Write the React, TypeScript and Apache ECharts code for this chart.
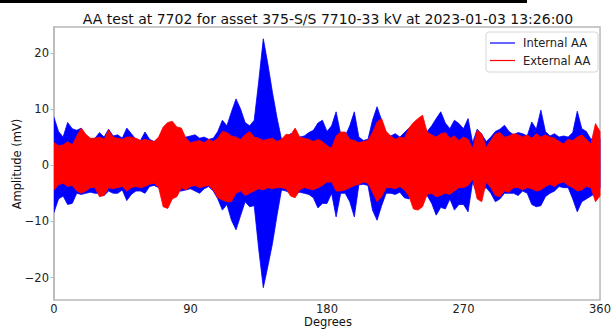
import React, { useEffect, useRef } from "react";
import * as echarts from "echarts";

// Sample spacing (degrees) of the envelope readings below; readings start at 0°.
const STEP_DEG = 3;

// Internal AA (blue) — upper and lower envelope read every 3° from 0° to 360° (mV)
const internalMax = [
  8.5, 6.0, 5.0, 7.6, 6.5, 6.2, 6.6, 5.0, 4.6, 4.8, 5.8, 5.0, 6.4, 5.2, 5.4, 4.8,
  6.6, 5.6, 4.6, 4.4, 5.9, 4.6, 4.2, 4.8, 6.4, 6.0, 5.5, 5.5, 4.6, 5.0, 5.2, 5.4,
  4.8, 5.0, 4.6, 4.8, 6.0, 8.0, 7.0, 9.5, 11.8, 10.0, 7.6, 7.0, 8.0, 15.0, 22.5, 18.0,
  13.0, 8.5, 4.6, 5.0, 5.6, 5.2, 5.0, 5.2, 5.8, 6.2, 7.5, 8.0, 6.0, 7.0, 9.5, 5.5,
  5.2, 7.0, 9.5, 5.0, 4.4, 4.6, 8.0, 10.4, 8.0, 5.4, 5.2, 5.6, 5.0, 5.8, 6.6, 6.0,
  6.5, 6.2, 6.0, 7.0, 8.3, 9.5, 7.5, 6.5, 8.0, 7.4, 6.5, 8.3, 4.0, 6.4, 5.5, 4.2,
  5.0, 6.0, 6.4, 7.1, 6.0, 5.4, 5.8, 5.6, 5.2, 7.7, 6.4, 9.8, 6.0, 5.2, 5.6, 5.0,
  5.2, 5.0, 5.8, 9.6, 6.5, 6.0, 4.6, 5.0, 4.8,
];
const internalMin = [
  -8.4, -6.0, -5.5, -7.0, -6.8, -5.0, -5.2, -5.0, -4.8, -5.0, -5.0, -5.4, -4.6, -5.0, -5.0, -4.4,
  -6.3, -5.2, -4.6, -4.6, -5.0, -3.8, -3.6, -4.0, -5.0, -5.0, -5.0, -4.6, -4.6, -4.4, -4.2, -4.6,
  -5.0, -4.2, -3.8, -4.6, -6.0, -8.0, -7.0, -9.8, -11.5, -9.0, -6.5, -7.4, -7.2, -15.0, -21.8, -18.0,
  -14.0, -9.0, -4.4, -4.6, -5.0, -5.2, -4.8, -5.0, -5.2, -5.8, -7.6, -6.8, -6.8, -5.0, -9.2, -5.0,
  -5.0, -6.5, -9.2, -3.5, -3.4, -3.6, -8.0, -9.8, -7.2, -5.0, -5.0, -5.2, -4.8, -5.8, -6.0, -5.5,
  -5.6, -5.4, -5.4, -6.8, -8.9, -7.5, -7.8, -6.0, -8.0, -7.0, -7.0, -8.3, -3.0, -5.0, -4.5, -4.0,
  -5.0, -6.5, -6.0, -5.0, -5.0, -5.0, -5.4, -4.6, -5.0, -7.0, -7.4, -7.2, -5.6, -5.0, -4.6, -3.8,
  -4.0, -4.0, -6.0, -8.3, -6.5, -6.0, -5.5, -5.0, -4.0,
];

// External AA (red) — upper and lower envelope read every 3° (mV)
const externalMax = [
  4.0, 3.5, 3.6, 4.2, 3.6, 5.2, 6.6, 5.5, 4.8, 4.8, 5.0, 4.6, 6.2, 5.0, 4.8, 4.6,
  5.0, 5.0, 4.8, 4.4, 4.6, 4.4, 4.2, 5.0, 6.8, 7.6, 7.8, 6.8, 6.6, 4.8, 4.0, 4.2,
  4.4, 4.0, 4.6, 4.2, 4.8, 6.0, 5.8, 5.2, 5.0, 4.6, 5.4, 6.0, 5.0, 4.8, 4.4, 4.6,
  4.8, 4.2, 4.6, 5.5, 5.4, 6.6, 5.0, 4.8, 4.6, 4.2, 4.6, 4.2, 3.5, 3.0, 5.2, 5.9,
  5.9, 4.6, 4.4, 4.0, 4.2, 4.4, 5.8, 7.7, 8.3, 6.0, 5.2, 4.6, 5.0, 4.8, 6.6, 7.6,
  8.3, 8.9, 5.9, 5.4, 5.0, 5.6, 5.8, 4.8, 5.2, 4.4, 5.0, 4.6, 3.0, 6.2, 5.6, 3.2,
  4.4, 5.6, 5.8, 5.0, 5.2, 5.6, 5.4, 5.0, 5.4, 4.8, 5.6, 5.0, 5.4, 5.0, 4.8, 4.2,
  3.8, 4.6, 4.4, 5.0, 5.4, 4.6, 3.8, 7.4, 6.0,
];
const externalMin = [
  -4.4, -3.5, -3.2, -3.8, -3.6, -4.6, -5.0, -4.6, -4.0, -4.0, -5.6, -5.4, -4.0, -4.2, -4.0, -3.8,
  -4.6, -4.0, -3.8, -4.0, -3.8, -3.4, -3.2, -4.0, -7.4, -7.7, -6.0, -5.6, -4.0, -4.4, -3.8, -3.6,
  -4.0, -3.8, -3.6, -4.4, -5.8, -6.2, -6.5, -6.5, -5.0, -4.6, -5.4, -5.0, -4.6, -4.2, -4.4, -4.0,
  -4.2, -4.0, -4.0, -4.2, -5.5, -5.8, -4.4, -4.0, -4.2, -4.4, -4.0, -3.6, -3.0, -3.0, -4.6, -4.6,
  -4.4, -4.0, -3.6, -3.4, -3.0, -3.2, -4.8, -6.5, -5.6, -4.0, -4.0, -4.2, -3.8, -4.4, -5.5, -7.8,
  -8.0, -7.4, -5.2, -5.0, -5.6, -5.4, -5.0, -5.2, -4.6, -4.0, -4.0, -3.6, -2.5, -6.0, -6.5, -3.0,
  -4.0, -5.4, -5.6, -4.6, -4.8, -4.0, -4.0, -4.4, -4.0, -4.2, -4.6, -4.4, -3.8, -3.4, -3.8, -3.2,
  -3.0, -3.6, -4.0, -4.6, -4.4, -3.8, -4.0, -6.5, -5.5,
];

const seriesNames = ["Internal AA", "External AA"];
const seriesColors = ["#0000ff", "#ff0000"];
const xTicks = [0, 90, 180, 270, 360];
const yTicks = [-20, -10, 0, 10, 20];

const TITLE = "AA test at 7702 for asset 375-S/S 7710-33 kV at 2023-01-03 13:26:00";
const FONT = "DejaVu Sans";

export default function App() {
  const ref = useRef<HTMLDivElement>(null);

  useEffect(() => {
    if (!ref.current) return;
    const chart = echarts.init(ref.current, undefined, { renderer: "svg" });

    // One filled band (envelope of the dense signal) per trace, drawn via the axes' scales.
    const bandSeries = (name: string, maxs: number[], mins: number[], color: string) => ({
      name,
      type: "custom",
      coordinateSystem: "cartesian2d",
      silent: true,
      clip: true,
      itemStyle: { color, borderWidth: 0 },
      encode: { x: 0, y: [1, 2] },
      data: maxs.map((v, i) => [i * STEP_DEG, v, mins[i]]),
      renderItem: (params: any, api: any) => {
        if (params.dataIndex !== 0) return null;
        const pts: number[][] = [];
        for (let i = 0; i < maxs.length; i++) pts.push(api.coord([i * STEP_DEG, maxs[i]]));
        for (let i = mins.length - 1; i >= 0; i--) pts.push(api.coord([i * STEP_DEG, mins[i]]));
        return {
          type: "polygon",
          shape: { points: pts },
          style: { fill: color, stroke: color, lineWidth: 0.8 },
        };
      },
    });

    const grayAxis = "#b8b8b8";
    // Legend box (drawn as graphics so the line swatches are thin like the original)
    const LX = 486;
    const LY = 32;
    const LW = 112;
    const LH = 40;
    const rowY = [43, 60.5];

    const legendGraphics: any[] = [
      {
        type: "rect",
        z: 100,
        shape: { x: LX, y: LY, width: LW, height: LH, r: 3 },
        style: { fill: "#fff", stroke: "#d6d6d6", lineWidth: 1 },
      },
    ];
    seriesNames.forEach((n, k) => {
      legendGraphics.push({
        type: "rect",
        z: 101,
        shape: { x: LX + 4, y: rowY[k] - 0.6, width: 25, height: 1.2 },
        style: { fill: seriesColors[k], stroke: "none", lineWidth: 0 },
      });
      legendGraphics.push({
        type: "text",
        z: 101,
        x: LX + 37,
        y: rowY[k],
        style: { text: n, fill: "#222", font: `11.5px "${FONT}"`, textAlign: "left", textVerticalAlign: "middle" },
      });
    });

    chart.setOption({
      animation: false,
      textStyle: { fontFamily: FONT },
      grid: {
        left: 54,
        right: 11,
        top: 27,
        bottom: 29,
        show: true,
        borderColor: grayAxis,
        borderWidth: 1.5,
        backgroundColor: "transparent",
      },
      xAxis: {
        type: "value",
        min: 0,
        max: 360,
        interval: 90,
        axisLine: { show: true, lineStyle: { color: grayAxis, width: 1.5 } },
        axisTick: { show: true, length: 3.5, lineStyle: { color: grayAxis, width: 1 } },
        axisLabel: {
          color: "#222",
          fontSize: 11.5,
          fontFamily: FONT,
          margin: 3,
          customValues: xTicks,
        },
        splitLine: { show: false },
      },
      yAxis: {
        type: "value",
        min: -24.0,
        max: 24.6,
        axisLine: { show: true, onZero: false, lineStyle: { color: grayAxis, width: 1.5 } },
        axisTick: { show: true, length: 3.5, lineStyle: { color: grayAxis, width: 1 }, customValues: yTicks },
        axisLabel: {
          color: "#222",
          fontSize: 11.5,
          fontFamily: FONT,
          margin: 5,
          customValues: yTicks,
          formatter: (v: number) => (v < 0 ? "\u2212" + Math.abs(v) : String(v)),
        },
        splitLine: { show: false },
      },
      legend: { show: false },
      graphic: [
        { type: "rect", left: 0, top: 0, shape: { x: 0, y: 0, width: 527, height: 3 }, style: { fill: "#000" } },
        {
          type: "text",
          x: 328,
          y: 18.5,
          style: { text: TITLE, fill: "#111", font: `14px "${FONT}"`, textAlign: "center", textVerticalAlign: "middle" },
        },
        {
          type: "text",
          x: 328,
          y: 322,
          style: { text: "Degrees", fill: "#111", font: `11.5px "${FONT}"`, textAlign: "center", textVerticalAlign: "middle" },
        },
        {
          type: "text",
          x: 17,
          y: 164,
          rotation: Math.PI / 2,
          style: { text: "Amplitude (mV)", fill: "#111", font: `11.5px "${FONT}"`, textAlign: "center", textVerticalAlign: "middle" },
        },
        ...legendGraphics,
      ],
      series: [
        bandSeries(seriesNames[0], internalMax, internalMin, seriesColors[0]),
        bandSeries(seriesNames[1], externalMax, externalMin, seriesColors[1]),
      ],
    });

    return () => chart.dispose();
  }, []);

  return (
    <div
      ref={ref}
      style={{ position: "fixed", left: 0, top: 0, width: 614, height: 329, background: "#fff" }}
    />
  );
}
